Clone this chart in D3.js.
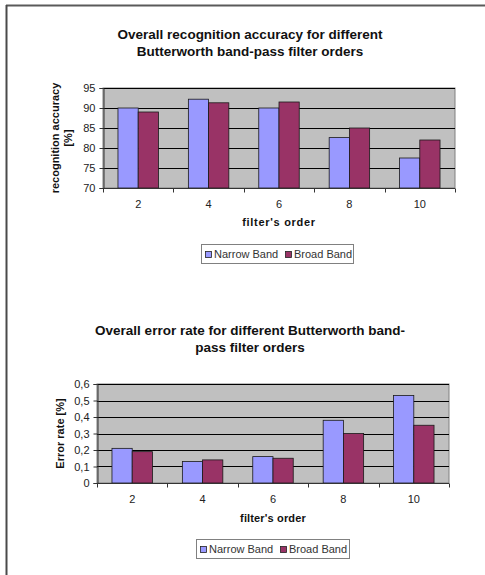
<!DOCTYPE html>
<html>
<head>
<meta charset="utf-8">
<script src="https://cdn.jsdelivr.net/npm/d3@7"></script>
<style>
  html, body { margin: 0; padding: 0; background: #fff; }
  svg { display: block; font-family: "Liberation Sans", Arial, sans-serif; }
</style>
</head>
<body>
<svg id="page" width="485" height="575"></svg>
<script>
// Filter orders on the x axis
const orders = ["2", "4", "6", "8", "10"];
const seriesNames = ["Narrow Band", "Broad Band"];
const seriesColors = ["#9999FF", "#993366"];

// Recognition accuracy [%]
const accuracyNarrow = [90, 92.2, 90, 82.6, 77.5];
const accuracyBroad = [89, 91.3, 91.5, 85, 82];
const accuracyTicks = [70, 75, 80, 85, 90, 95];

// Error rate [%]
const errorNarrow = [0.21, 0.13, 0.16, 0.38, 0.53];
const errorBroad = [0.19, 0.14, 0.15, 0.30, 0.35];
const errorTicks = [0, 0.1, 0.2, 0.3, 0.4, 0.5, 0.6];

const svg = d3.select("#page");

// page frame: top and left edges
svg.append("line").attr("x1", 6).attr("x2", 485).attr("y1", 5.5).attr("y2", 5.5)
  .attr("stroke", "#5a5a5a").attr("stroke-width", 2);
svg.append("line").attr("x1", 6.5).attr("x2", 6.5).attr("y1", 5).attr("y2", 575)
  .attr("stroke", "#4a4a4a").attr("stroke-width", 2);

function drawChart(opt) {
  const g = svg.append("g");
  const { left, right, top, bottom } = opt.plot;

  // titles
  opt.titleLines.forEach((t, i) => {
    g.append("text")
      .attr("x", opt.titleX).attr("y", opt.titleY + i * 17)
      .attr("text-anchor", "middle")
      .attr("font-size", 13.5).attr("font-weight", "bold").attr("fill", "#111")
      .text(t);
  });

  const x0 = d3.scaleBand().domain(orders).range([left, right]).paddingInner(0).paddingOuter(0);
  const x1 = d3.scaleBand().domain(seriesNames).range([0, x0.bandwidth()]).paddingInner(0).paddingOuter(0.74);
  const y = d3.scaleLinear().domain(opt.domain).range([bottom, top]);

  // plot background
  g.append("rect").attr("x", left).attr("y", top)
    .attr("width", right - left).attr("height", bottom - top)
    .attr("fill", "#C0C0C0").attr("stroke", "#808080").attr("stroke-width", 1);

  // gridlines
  g.append("g").selectAll("line").data(opt.ticks.slice(1))
    .join("line")
    .attr("x1", left).attr("x2", right)
    .attr("y1", d => Math.round(y(d)) + 0.5).attr("y2", d => Math.round(y(d)) + 0.5)
    .attr("stroke", "#000").attr("stroke-width", 1);

  // bars
  const rows = orders.map((o, i) => ({ order: o, values: [opt.series[0][i], opt.series[1][i]] }));
  g.append("g").selectAll("g").data(rows).join("g")
    .attr("transform", d => `translate(${x0(d.order)},0)`)
    .selectAll("rect")
    .data(d => d.values.map((v, k) => ({ name: seriesNames[k], value: v, k })))
    .join("rect")
    .attr("x", d => x1(d.name))
    .attr("width", x1.bandwidth())
    .attr("y", d => y(d.value))
    .attr("height", d => bottom - y(d.value))
    .attr("fill", d => seriesColors[d.k])
    .attr("stroke", "#1a1a1a").attr("stroke-width", 0.8);

  // y axis
  const yAxis = d3.axisLeft(y).tickValues(opt.ticks).tickSize(4).tickPadding(4)
    .tickFormat(opt.format);
  const ya = g.append("g").attr("transform", `translate(${left + 0.5},0)`).call(yAxis);
  ya.select(".domain").attr("stroke", "#333");
  ya.selectAll(".tick line").attr("stroke", "#333");
  ya.selectAll("text").attr("font-size", 11).attr("fill", "#222")
    .attr("font-family", "Liberation Sans, Arial, sans-serif");

  // x axis: ticks at category boundaries
  const xa = g.append("g").attr("transform", `translate(0,${bottom + 0.5})`);
  xa.append("line").attr("x1", left).attr("x2", right).attr("stroke", "#333");
  const bounds = orders.map(o => x0(o)).concat([right]);
  xa.selectAll("line.tk").data(bounds).join("line").attr("class", "tk")
    .attr("x1", d => Math.round(d) + 0.5).attr("x2", d => Math.round(d) + 0.5)
    .attr("y1", 0).attr("y2", 4).attr("stroke", "#333");
  xa.selectAll("text").data(orders).join("text")
    .attr("x", d => x0(d) + x0.bandwidth() / 2)
    .attr("y", 19)
    .attr("text-anchor", "middle")
    .attr("font-size", 11).attr("fill", "#222")
    .text(d => d);

  // axis titles
  g.append("text")
    .attr("x", (left + right) / 2).attr("y", bottom + opt.xTitleOffset)
    .attr("text-anchor", "middle")
    .attr("font-size", 11).attr("font-weight", "bold").attr("fill", "#111")
    .attr("letter-spacing", opt.xTitleSpacing)
    .text("filter's order");

  opt.yTitle.forEach((t, i) => {
    g.append("text")
      .attr("transform", `translate(${opt.yTitleX[i]},${(top + bottom) / 2}) rotate(-90)`)
      .attr("text-anchor", "middle")
      .attr("font-size", 11).attr("font-weight", "bold").attr("fill", "#111")
      .text(t);
  });

  // legend
  const L = opt.legend;
  const lg = g.append("g").attr("transform", `translate(${L.x},${L.y})`);
  lg.append("rect").attr("x", 0.5).attr("y", 0.5).attr("width", L.w).attr("height", 19)
    .attr("fill", "#fff").attr("stroke", "#808080");
  const offsets = [4, 84];
  seriesNames.forEach((n, k) => {
    lg.append("rect").attr("x", offsets[k] + 0.5).attr("y", 7.5).attr("width", 6).attr("height", 6)
      .attr("fill", seriesColors[k]).attr("stroke", "#222").attr("stroke-width", 0.8);
    lg.append("text").attr("x", offsets[k] + 9).attr("y", 14)
      .attr("font-size", 11).attr("fill", "#333").text(n);
  });
}

drawChart({
  titleLines: ["Overall recognition accuracy for different", "Butterworth band-pass filter orders"],
  titleX: 250, titleY: 39,
  plot: { left: 103, right: 455, top: 88, bottom: 188 },
  domain: [70, 95], ticks: accuracyTicks, format: d3.format("d"),
  series: [accuracyNarrow, accuracyBroad],
  yTitle: ["recognition accuracy", "[%]"], yTitleX: [59, 72],
  xTitleOffset: 38, xTitleSpacing: 0.7,
  legend: { x: 201, y: 244, w: 152 }
});

drawChart({
  titleLines: ["Overall error rate for different Butterworth band-", "pass filter orders"],
  titleX: 250, titleY: 335,
  plot: { left: 97, right: 449, top: 384, bottom: 483 },
  domain: [0, 0.6], ticks: errorTicks, format: d => d === 0 ? "0" : d3.format(".1f")(d).replace(".", ","),
  series: [errorNarrow, errorBroad],
  yTitle: ["Error rate [%]"], yTitleX: [64],
  xTitleOffset: 39, xTitleSpacing: 0.15,
  legend: { x: 196, y: 539, w: 153 }
});
</script>
</body>
</html>
